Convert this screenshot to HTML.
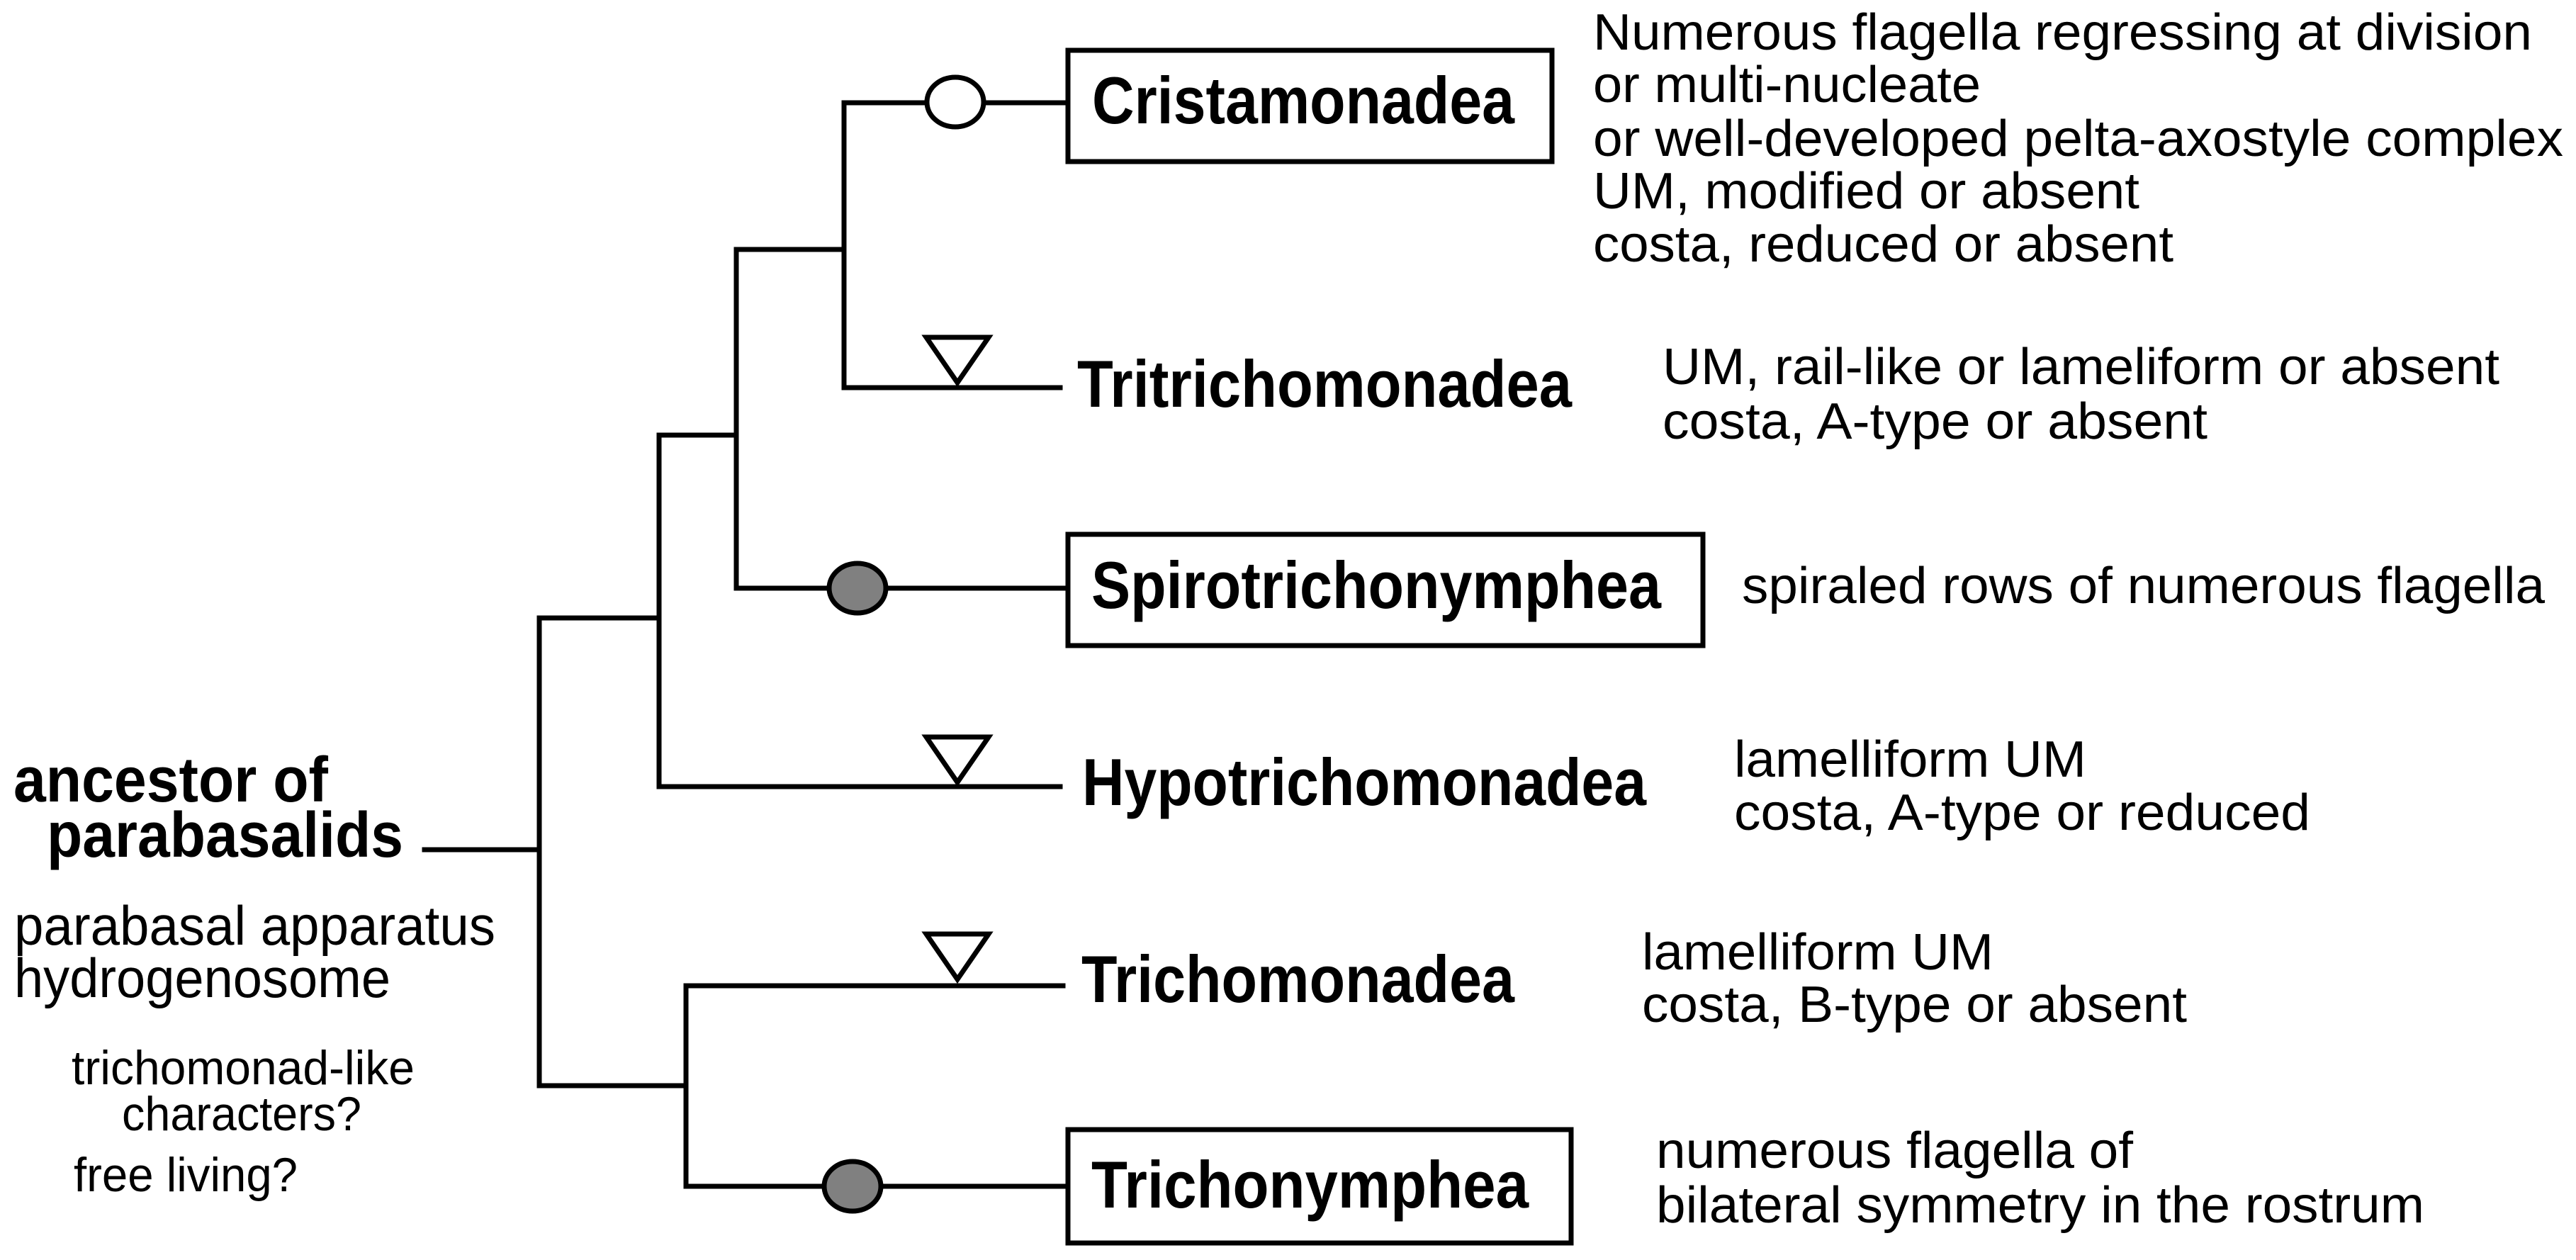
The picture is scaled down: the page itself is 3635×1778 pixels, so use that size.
<!DOCTYPE html>
<html><head><meta charset="utf-8"><style>
html,body{margin:0;padding:0;background:#fff;width:3635px;height:1778px;overflow:hidden}
svg{display:block}
.b{font-family:"Liberation Sans",Arial,sans-serif;font-weight:bold;font-size:94px}
.a{font-family:"Liberation Sans",Arial,sans-serif;font-weight:bold;font-size:90px}
.r{font-family:"Liberation Sans",Arial,sans-serif;font-size:72px}
.c{font-family:"Liberation Sans",Arial,sans-serif;font-size:78px}
.s{font-family:"Liberation Sans",Arial,sans-serif;font-size:68px}
</style></head><body>
<svg width="3635" height="1778" viewBox="0 0 3635 1778" xmlns="http://www.w3.org/2000/svg">
<g stroke="#000" stroke-width="7" fill="none" stroke-linecap="square">
<line x1="599" y1="1199" x2="761" y2="1199"/>
<line x1="761" y1="872" x2="761" y2="1532"/>
<line x1="761" y1="872" x2="930" y2="872"/>
<line x1="761" y1="1532" x2="968" y2="1532"/>
<line x1="930" y1="614" x2="930" y2="1110"/>
<line x1="930" y1="614" x2="1039" y2="614"/>
<line x1="930" y1="1110" x2="1496" y2="1110"/>
<line x1="1039" y1="352" x2="1039" y2="830"/>
<line x1="1039" y1="352" x2="1191" y2="352"/>
<line x1="1039" y1="830" x2="1504" y2="830"/>
<line x1="1191" y1="145" x2="1191" y2="547"/>
<line x1="1191" y1="145" x2="1504" y2="145"/>
<line x1="1191" y1="547" x2="1496" y2="547"/>
<line x1="968" y1="1391" x2="968" y2="1674"/>
<line x1="968" y1="1391" x2="1500" y2="1391"/>
<line x1="968" y1="1674" x2="1504" y2="1674"/>
<rect x="1507" y="71" width="683" height="157"/>
<rect x="1507" y="754" width="896" height="157"/>
<rect x="1507" y="1594" width="710" height="160"/>
</g>
<g stroke="#000" stroke-width="7">
<ellipse cx="1348" cy="144" rx="40" ry="35" fill="#fff"/>
<ellipse cx="1210" cy="830" rx="40" ry="35" fill="#808080"/>
<ellipse cx="1203" cy="1674" rx="40" ry="35" fill="#808080"/>
<polygon points="1307,476 1395,476 1351,540" fill="#fff"/>
<polygon points="1307,1040 1395,1040 1351,1104" fill="#fff"/>
<polygon points="1307,1318 1395,1318 1351,1382" fill="#fff"/>
</g>
<g fill="#000">
<text class="b" x="1541" y="174" textLength="596" lengthAdjust="spacingAndGlyphs">Cristamonadea</text>
<text class="b" x="1520" y="574" textLength="698" lengthAdjust="spacingAndGlyphs">Tritrichomonadea</text>
<text class="b" x="1540" y="858" textLength="804" lengthAdjust="spacingAndGlyphs">Spirotrichonymphea</text>
<text class="b" x="1527" y="1136" textLength="796" lengthAdjust="spacingAndGlyphs">Hypotrichomonadea</text>
<text class="b" x="1526" y="1414" textLength="611" lengthAdjust="spacingAndGlyphs">Trichomonadea</text>
<text class="b" x="1540" y="1704" textLength="617" lengthAdjust="spacingAndGlyphs">Trichonymphea</text>
<text class="a" x="19" y="1131" textLength="444" lengthAdjust="spacingAndGlyphs">ancestor of</text>
<text class="a" x="66" y="1209" textLength="503" lengthAdjust="spacingAndGlyphs">parabasalids</text>

<text class="c" x="20" y="1333" textLength="679" lengthAdjust="spacingAndGlyphs">parabasal apparatus</text>
<text class="c" x="20" y="1407" textLength="531" lengthAdjust="spacingAndGlyphs">hydrogenosome</text>
<text class="s" x="101" y="1530" textLength="484" lengthAdjust="spacingAndGlyphs">trichomonad-like</text>
<text class="s" x="172" y="1595" textLength="338" lengthAdjust="spacingAndGlyphs">characters?</text>
<text class="s" x="104" y="1681" textLength="316" lengthAdjust="spacingAndGlyphs">free living?</text>

<text class="r" x="2248" y="70" textLength="1325" lengthAdjust="spacingAndGlyphs">Numerous flagella regressing at division</text>
<text class="r" x="2248" y="144" textLength="547" lengthAdjust="spacingAndGlyphs">or multi-nucleate</text>
<text class="r" x="2248" y="220" textLength="1369" lengthAdjust="spacingAndGlyphs">or well-developed pelta-axostyle complex</text>
<text class="r" x="2248" y="294" textLength="771" lengthAdjust="spacingAndGlyphs">UM, modified or absent</text>
<text class="r" x="2248" y="369" textLength="819" lengthAdjust="spacingAndGlyphs">costa, reduced or absent</text>

<text class="r" x="2346" y="542" textLength="1181" lengthAdjust="spacingAndGlyphs">UM, rail-like or lameliform or absent</text>
<text class="r" x="2346" y="619" textLength="769" lengthAdjust="spacingAndGlyphs">costa, A-type or absent</text>

<text class="r" x="2458" y="851" textLength="1133" lengthAdjust="spacingAndGlyphs">spiraled rows of numerous flagella</text>

<text class="r" x="2447" y="1096" textLength="497" lengthAdjust="spacingAndGlyphs">lamelliform UM</text>
<text class="r" x="2447" y="1171" textLength="813" lengthAdjust="spacingAndGlyphs">costa, A-type or reduced</text>

<text class="r" x="2317" y="1368" textLength="496" lengthAdjust="spacingAndGlyphs">lamelliform UM</text>
<text class="r" x="2317" y="1442" textLength="769" lengthAdjust="spacingAndGlyphs">costa, B-type or absent</text>

<text class="r" x="2337" y="1648" textLength="673" lengthAdjust="spacingAndGlyphs">numerous flagella of</text>
<text class="r" x="2337" y="1725" textLength="1084" lengthAdjust="spacingAndGlyphs">bilateral symmetry in the rostrum</text>
</g>
</svg>
</body></html>
